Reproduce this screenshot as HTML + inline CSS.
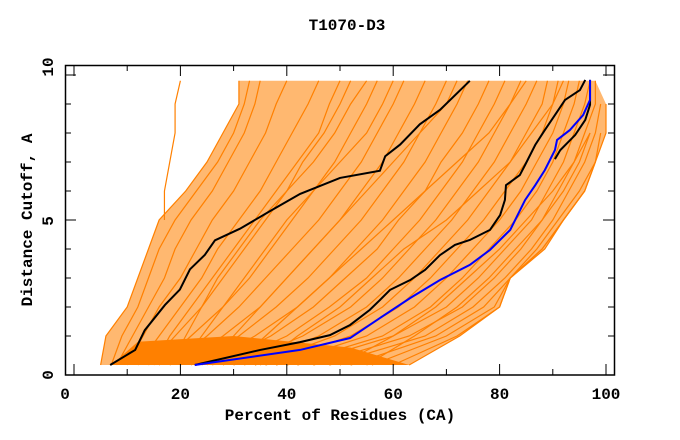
<!DOCTYPE html>
<html><head><meta charset="utf-8"><style>
html,body{margin:0;padding:0;background:#fff;}
svg{display:block;}
text{font-family:"Liberation Mono",monospace;font-weight:bold;font-size:16px;fill:#000;}
</style></head><body>
<svg id="chart" width="680" height="440"></svg>
<script>
const xTicks=[0,20,40,60,80,100];
const xMinor=[10,30,50,70,90];
const yTicks=[0,5,10];
const levels=[0,1,2,3,4,5,6,7,8,9,9.8];
const orangeCurves=[
[5,6,10,12,14,16,21,25,28,31,31],
[7,9,12,14,16,19,23,27,30,32,33],
[8,11,14,17,19,22,26,29,32,34,35],
[10,13,16,20,23,26,30,33,36,38,40],
[12,16,20,24,27,31,35,38,41,44,46],
[14,19,24,28,32,36,40,43,47,50,52],
[16,22,28,33,37,41,45,49,52,55,57],
[18,25,31,36,41,46,50,54,57,60,62],
[20,28,35,40,45,50,54,58,61,64,66],
[22,31,38,44,49,54,58,62,65,68,70],
[24,34,42,48,53,58,62,66,69,72,74],
[26,37,45,51,57,61,66,69,73,76,78],
[28,40,48,55,60,65,69,73,76,79,81],
[30,43,52,58,63,68,72,76,79,82,84],
[32,46,55,61,66,71,75,79,82,85,87],
[34,49,58,64,69,74,78,82,85,88,89],
[36,52,61,67,72,77,81,85,88,90,91],
[38,55,64,70,75,80,84,87,90,92,93],
[40,58,67,73,78,83,87,90,92,94,95],
[42,60,70,76,81,86,89,92,94,96,97],
[45,63,73,79,84,88,91,94,96,98,98],
[48,66,75,81,86,90,93,96,98,99,null],
[52,68,77,82,87,91,95,98,99,null,null],
[56,70,79,82,88,92,96,98,null,null,null],
[60,72,80,82,88,92,96,null,null,null,null],
[20,24,28,32,36,40,45,50,55,58,60],
[25,30,35,40,45,50,55,60,65,70,72],
[30,36,42,48,54,60,66,72,78,82,85],
[35,42,50,56,62,70,76,82,86,90,92],
[15,18,22,26,30,34,38,42,46,48,50],
[18,21,24,27,31,35,40,45,49,52,55],
[50,60,68,74,80,85,90,94,97,null,null],
[55,64,72,78,83,88,92,95,97,null,null],
[null,null,null,null,null,17,17,18,19,19,20],
[63,72.5,80,82,88.5,92,96,98,100,100,null]
];
const envLeftX=[5,6,10,12,14,16,21,25,28,31,31];
const envRightX=[63,72.5,80,82,88.5,92,96,98,100,100,98];
const bandX=[7,63,52,30,12];
const bandY=[0,0,0.6,1.0,0.8];
const black1X=[6.8,11.5,13.3,17.1,19.9,21.8,24.6,26.5,31.2,36.8,42.5,50,57.5,58.5,61.3,65,68.8,74.4];
const black1Y=[0,0.52,1.2,2.07,2.6,3.3,3.8,4.3,4.7,5.3,5.9,6.45,6.7,7.2,7.6,8.3,8.8,9.8];
const black2X=[22.7,35,42.5,48.1,51.9,55.6,57.5,59.4,63.2,66,68.8,71.6,74.4,78.2,80.1,81,81.2,83.8,84.8,86.7,88.5,90.4,92.3,95.1,96.1];
const black2Y=[0,0.52,0.79,1.03,1.38,1.9,2.24,2.59,2.93,3.28,3.79,4.14,4.31,4.66,5.17,5.69,6.2,6.55,6.9,7.59,8.1,8.62,9.14,9.48,9.83];
const black3X=[90.4,91.4,94.2,96.1,97,97];
const black3Y=[7.1,7.41,7.93,8.45,8.97,9.83];
const blueX=[22.7,42.5,51.9,57.5,63.2,68.8,74.4,78.2,82,84.8,86.7,88.5,90.4,90.8,93.2,95.7,97,97];
const blueY=[0,0.52,0.93,1.62,2.31,2.93,3.45,3.97,4.66,5.69,6.2,6.72,7.41,7.76,8.1,8.62,9.14,9.83];

const NS="http://www.w3.org/2000/svg";
const svg=document.getElementById('chart');
const sx=v=>74+v*5.32;
const sy=v=>365-v*29;
function mk(tag,attrs,parent){const e=document.createElementNS(NS,tag);for(const k in attrs)e.setAttribute(k,attrs[k]);(parent||svg).appendChild(e);return e;}

let pts=[];
levels.forEach((l,i)=>pts.push(sx(envLeftX[i])+','+sy(l)));
for(let i=levels.length-1;i>=0;i--)pts.push(sx(envRightX[i])+','+sy(levels[i]));
const env=mk('polygon',{points:pts.join(' '),fill:'#ffb870',stroke:'none'});


const band=bandX.map((x,i)=>sx(x)+','+sy(bandY[i])).join(' ');
const bd=mk('polygon',{points:band,fill:'#ff8000',stroke:'none'});



const g=mk('g',{});


orangeCurves.forEach((c,ci)=>{
  let p=[];
  c.forEach((x,i)=>{if(x!==null)p.push(sx(x)+','+sy(levels[i]));});
  const pl=mk('polyline',{points:p.join(' '),fill:'none',stroke:'#ff8000','stroke-width':1.2},g);
  
  
});
function series(xs,ys,col,name){
  const p=xs.map((x,i)=>sx(x)+','+sy(ys[i])).join(' ');
  const pl=mk('polyline',{points:p,fill:'none',stroke:col,'stroke-width':2});
  
  
}
series(black1X,black1Y,'#000','black-curve-left');
series(black2X,black2Y,'#000','black-curve-right');
series(black3X,black3Y,'#000','black-curve-right-upper');
series(blueX,blueY,'#0000ff','blue-curve');

const fr=mk('rect',{x:65.5,y:65.5,width:549,height:309.5,fill:'none',stroke:'#000','stroke-width':1.5});


xTicks.forEach(v=>{
  mk('line',{x1:sx(v),x2:sx(v),y1:375,y2:364,stroke:'#000'});
  mk('line',{x1:sx(v),x2:sx(v),y1:65,y2:76,stroke:'#000'});
  const t=mk('text',{x:v===0?65:sx(v),y:399,'text-anchor':'middle'});
  t.textContent=v;
  
  
});
xMinor.forEach(v=>{
  mk('line',{x1:sx(v),x2:sx(v),y1:375,y2:369,stroke:'#000'});
  mk('line',{x1:sx(v),x2:sx(v),y1:65,y2:71,stroke:'#000'});
});
for(let k=1;k<=10;k++){
  const len=(k===5||k===10)?11:6;
  mk('line',{x1:65,x2:65+len,y1:sy(k),y2:sy(k),stroke:'#000'});
  mk('line',{x1:614,x2:614-len,y1:sy(k),y2:sy(k),stroke:'#000'});
}
const yLabPos={0:375,5:221,10:67};
yTicks.forEach(v=>{
  const t=mk('text',{x:0,y:0,'text-anchor':'middle',transform:'translate(53,'+yLabPos[v]+') rotate(-90)',dy:'0'});
  t.textContent=v;
  
  
});
const title=mk('text',{x:347,y:30,'text-anchor':'middle'});
title.textContent='T1070-D3';


const xt=mk('text',{x:340,y:420,'text-anchor':'middle'});
xt.textContent='Percent of Residues (CA)';


const yt=mk('text',{x:0,y:0,'text-anchor':'middle',transform:'translate(32,220) rotate(-90)'});
yt.textContent='Distance Cutoff, A';


</script>
</body></html>
